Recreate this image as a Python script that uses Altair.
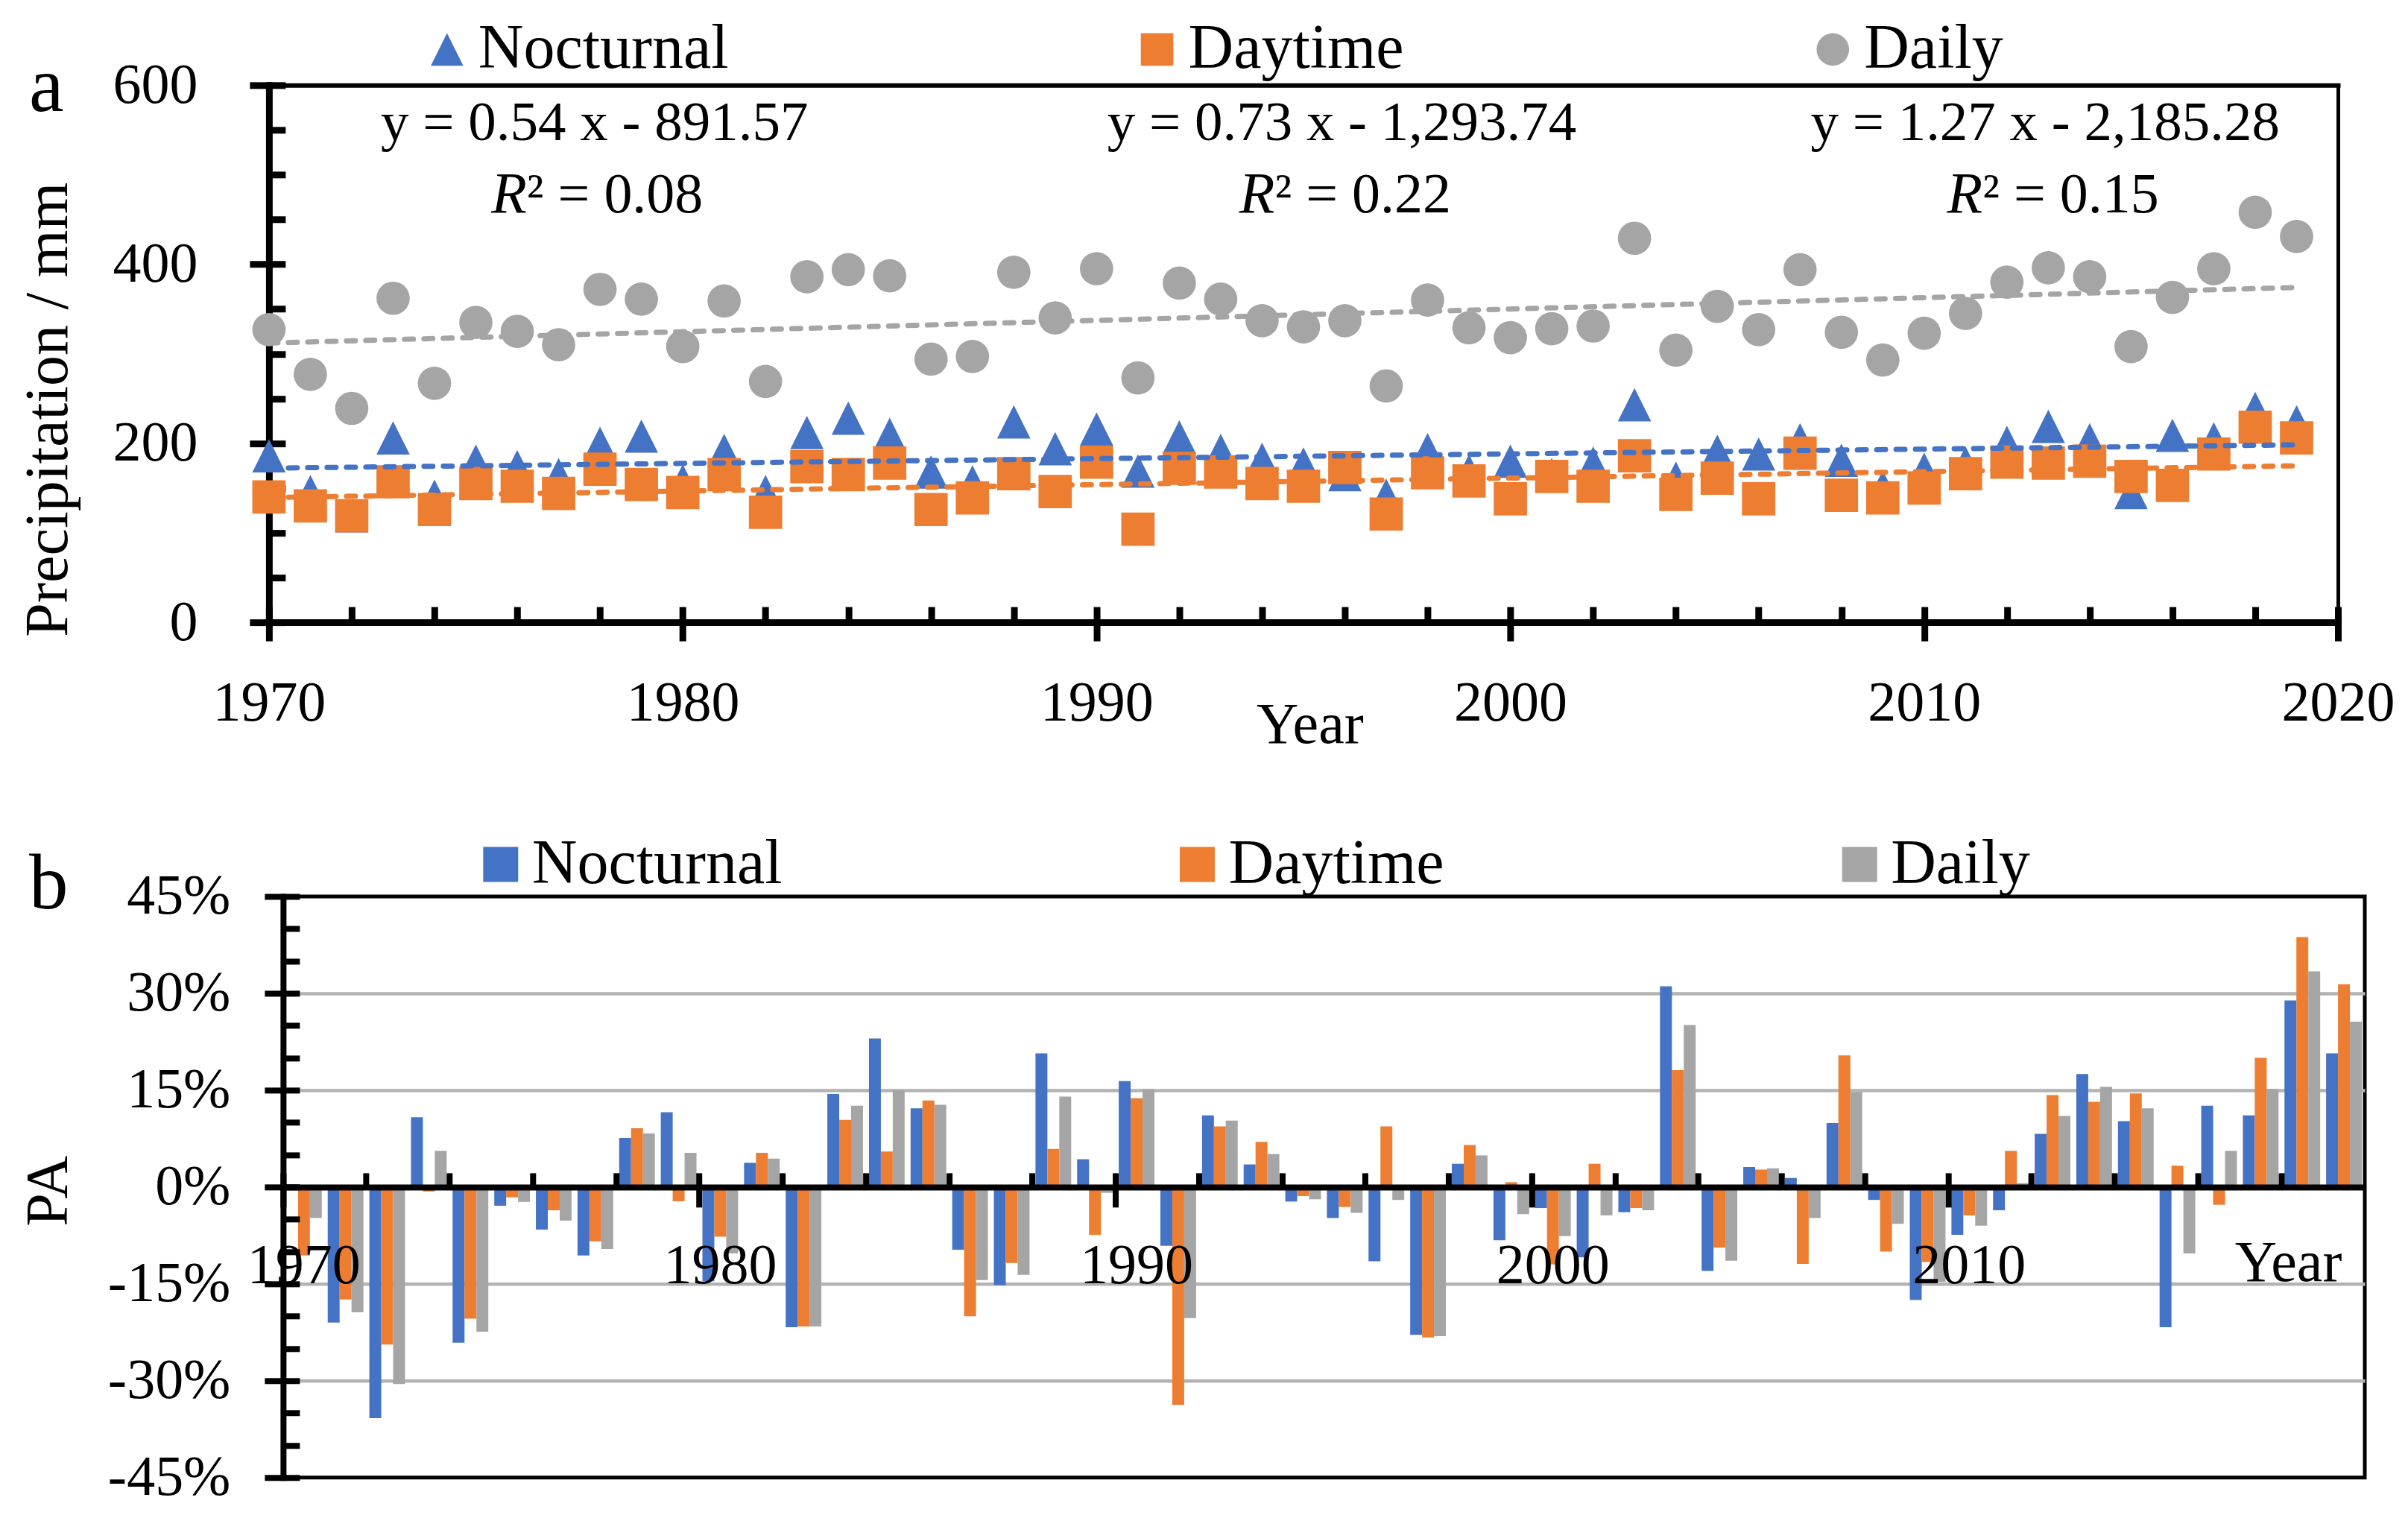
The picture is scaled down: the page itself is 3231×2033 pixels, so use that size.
import altair as alt
import pandas as pd

# ---------------- data ----------------
years = list(range(1970, 2020))
series = ["Nocturnal", "Daytime", "Daily"]
colors = ["#4472C4", "#ED7D31", "#A5A5A5"]

nocturnal = [186, 146, 119, 206, 141, 180, 174, 165, 200, 208,
             158, 192, 146, 212, 228, 210, 168, 157, 224, 194,
             216, 169, 207, 192, 182, 177, 165, 142, 193, 169,
             180, 165, 178, 243, 161, 191, 188, 204, 181, 151,
             171, 178, 201, 219, 204, 145, 209, 205, 239, 224]
daytime = [140, 130, 119, 157, 126, 155, 152, 144, 171, 154,
           145, 165, 123, 174, 165, 178, 126, 139, 166, 146,
           179, 104, 172, 168, 155, 152, 173, 121, 167, 158,
           138, 163, 152, 186, 143, 161, 138, 189, 142, 139,
           150, 166, 179, 178, 180, 163, 153, 188, 218, 206]
daily = [327, 277, 239, 362, 267, 335, 325, 310, 372, 361,
         308, 359, 269, 386, 394, 387, 294, 297, 391, 340,
         395, 273, 379, 361, 337, 330, 337, 264, 360, 329,
         318, 328, 331, 429, 304, 353, 327, 394, 324, 293,
         323, 345, 380, 396, 386, 308, 363, 395, 458, 431]

pa_nocturnal = [0.4, -21, -35.8, 10.8, -24.1, -2.9, -6.6, -10.6, 7.6, 11.6,
                -14.6, 3.75, -21.7, 14.4, 23, 12.2, -9.7, -15.2, 20.7, 4.3,
                16.4, -9.1, 11.1, 3.5, -2.25, -4.8, -11.5, -22.9, 3.6, -8.25,
                -3.25, -10.9, -3.9, 31.1, -13, 3.1, 1.4, 9.9, -2, -17.5,
                -7.4, -3.6, 8.25, 17.5, 10.2, -21.7, 12.6, 11.1, 28.9, 20.7]
pa_daytime = [-10.6, -17.4, -24.4, -0.7, -20.4, -1.6, -3.6, -8.4, 9.1, -2.2,
              -7.7, 5.3, -21.6, 10.4, 5.5, 13.4, -20, -11.75, 5.9, -7.4,
              13.75, -33.75, 9.4, 7, -1.4, -3.1, 9.4, -23.3, 6.5, 0.75,
              -12, 3.6, -3.25, 18.1, -9.4, 2.7, -11.9, 20.4, -10, -11.6,
              -4.4, 5.6, 14.25, 13.2, 14.5, 3.3, -2.75, 20, 38.7, 31.4]
pa_daily = [-4.8, -19.4, -30.5, 5.6, -22.4, -2.3, -5.2, -9.6, 8.3, 5.3,
            -10.3, 4.4, -21.6, 12.6, 15, 12.75, -14.4, -13.6, 14, -0.9,
            15.2, -20.3, 10.3, 5.1, -1.9, -4, -2, -23.1, 4.9, -4.2,
            -7.6, -4.4, -3.6, 25.1, -11.4, 2.9, -4.8, 14.7, -5.7, -14.7,
            -6, 0.6, 11, 15.5, 12.2, -10.3, 5.6, 15.2, 33.4, 25.6]

equations = ["y = 0.54 x - 891.57", "y = 0.73 x - 1,293.74", "y = 1.27 x - 2,185.28"]
r2_values = ["0.08", "0.22", "0.15"]
decades = [1970, 1980, 1990, 2000, 2010]

FONT = "Liberation Serif"
SHIFT = 19                 # panel a starts 19 px left of panel b
W1, H1 = 2758, 721         # panel a plot (group origin = panel b's left edge)
W2, H2 = 2794, 780

top_df = pd.DataFrame({
    "year": years * 3,
    "series": [s for s in series for _ in years],
    "value": nocturnal + daytime + daily,
})
bot_df = pd.DataFrame({
    "year": years * 3,
    "series": [s for s in series for _ in years],
    "pa": pa_nocturnal + pa_daytime + pa_daily,
})
one = pd.DataFrame({"k": [0]})


def axis(**kw):
    base = dict(labelFont=FONT, titleFont=FONT, labelColor="black", titleColor="black",
                tickColor="black", domainColor="black", grid=False, labelLimit=0)
    base.update(kw)
    return alt.Axis(**base)


def txt(text, x, y, size, align="center", style="normal"):
    return alt.Chart(one).mark_text(
        text=text, font=FONT, fontSize=size, align=align, baseline="alphabetic",
        fontStyle=style, color="black"
    ).encode(x=alt.value(x), y=alt.value(y))


# ---------------- panel a ----------------
xq = alt.Scale(domain=[1970, 2020], nice=False, zero=False, range=[-SHIFT, W1])
yq = alt.Scale(domain=[0, 600], nice=False, zero=True)
shapes = ["M0,-1L1,1L-1,1Z", "square", "circle"]

top_legend = alt.Legend(orient="none", legendX=178, legendY=-90, direction="horizontal",
                        columns=3, columnPadding=533, symbolSize=1900, symbolStrokeWidth=0,
                        labelFont=FONT, labelFontSize=84, labelColor="black", labelOffset=0,
                        labelLimit=0, padding=0, title=None)

points = alt.Chart(top_df).mark_point(filled=True, opacity=1, size=2000, strokeWidth=0).encode(
    x=alt.X("year:Q", scale=xq, axis=axis(
        orient="bottom", values=list(range(1970, 2021, 10)), format="d",
        tickSize=25, tickWidth=9, domainWidth=9, domainCap="square",
        labelFontSize=76, labelPadding=46, labelFlush=False, labelOverlap=False,
        title="Year", titleFontSize=78, titleFontWeight="normal",
        titleX=1378, titleY=161, titleAlign="center", titleBaseline="alphabetic")),
    y=alt.Y("value:Q", scale=yq, axis=axis(
        orient="left", offset=SHIFT, values=[0, 200, 400, 600], format="d",
        tickSize=26, tickWidth=9, domainWidth=9, domainCap="square",
        labelFontSize=76, labelPadding=70, labelOverlap=False,
        title="Precipitation / mm", titleFontSize=82, titleFontWeight="normal",
        titleAngle=270, titleX=-271, titleY=435, titleAlign="center",
        titleBaseline="alphabetic")),
    color=alt.Color("series:N", sort=series, scale=alt.Scale(domain=series, range=colors),
                    legend=top_legend),
    shape=alt.Shape("series:N", sort=series, scale=alt.Scale(domain=series, range=shapes),
                    legend=top_legend),
)

trend = alt.Chart(top_df).transform_regression(
    "year", "value", groupby=["series"], extent=[1970, 2019]
).mark_line(strokeWidth=7, strokeDash=[12, 14], strokeCap="round").encode(
    x=alt.X("year:Q", scale=xq, axis=axis(
        orient="top", offset=-H1, values=list(range(1970, 2021, 2)),
        tickSize=21, tickWidth=9, labels=False, domain=False, title=None)),
    y=alt.Y("value:Q", scale=yq, axis=axis(
        orient="right", offset=-(W1 + SHIFT), values=list(range(0, 601, 50)),
        tickSize=22, tickWidth=9, labels=False, domain=False, title=None)),
    stroke=alt.Stroke("series:N", sort=series, scale=alt.Scale(domain=series, range=colors),
                      legend=None),
)

# frame of panel a: top and right borders drawn as axis domains
frame_top = alt.Chart(top_df).mark_point(opacity=0).encode(
    x=alt.X("year:Q", scale=xq, axis=axis(
        orient="top", domain=True, domainWidth=6, domainCap="square",
        ticks=False, labels=False, title=None)),
    y=alt.Y("value:Q", scale=yq, axis=axis(
        orient="right", domain=True, domainWidth=5, domainCap="square",
        ticks=False, labels=False, title=None)),
)

eq_x = [418, 1421, 2365]
r_x = [327, 1331, 2281]
top_texts = []
for i in range(3):
    top_texts.append(txt(equations[i], eq_x[i], 74, 75))
    top_texts.append(txt("R", r_x[i], 171, 78, align="right", style="italic"))
    top_texts.append(txt("\u00b2 = " + r2_values[i], r_x[i], 171, 76, align="left"))
top_texts.append(txt("a", -341, 35, 105, align="left"))

spacer_top = alt.Chart(one).mark_rule(opacity=0, strokeWidth=1).encode(
    x=alt.value(-367), y=alt.value(-106), y2=alt.value(0))

top = alt.layer(frame_top, points, trend, *top_texts, spacer_top).resolve_axis(
    x="independent", y="independent").properties(
    width=W1, height=H1, view=alt.ViewBackground(strokeWidth=0))

# ---------------- panel b ----------------
xb = alt.Scale(type="band", domain=years, paddingInner=0, paddingOuter=0)
yb = alt.Scale(domain=[-45, 45], nice=False, zero=False)

bot_legend = alt.Legend(orient="none", legendX=250, legendY=-85, direction="horizontal",
                        columns=3, columnPadding=515, symbolType="square", symbolSize=2209,
                        symbolStrokeWidth=0, labelFont=FONT, labelFontSize=84,
                        labelColor="black", labelOffset=0, labelLimit=0, padding=0,
                        title=None)

grid_layer = alt.Chart(bot_df).mark_bar(opacity=0).encode(
    x=alt.X("year:O", scale=xb, axis=None),
    y=alt.Y("pa:Q", scale=yb, axis=axis(
        orient="left", values=[-30, -15, 15, 30], grid=True, gridColor="#B3B3B3",
        gridWidth=4.5, labels=False, ticks=False, domain=False, title=None, zindex=0)),
)

bars = alt.Chart(bot_df).mark_bar().encode(
    x=alt.X("year:O", scale=xb, axis=axis(
        orient="bottom", offset=-H2 / 2, values=decades, ticks=False, tickSize=0,
        labelAngle=0, labelFontSize=76, labelPadding=69, labelOverlap=False,
        domainWidth=8, title="Year", titleFontSize=78, titleFontWeight="normal",
        titleX=2691, titleY=126, titleAlign="center", titleBaseline="alphabetic",
        zindex=1)),
    xOffset=alt.XOffset("series:N", sort=series,
                        scale=alt.Scale(domain=series, paddingInner=0, paddingOuter=0.25)),
    y=alt.Y("pa:Q", scale=yb, axis=axis(
        orient="left", values=list(range(-45, 46, 15)), labelExpr="datum.value + '%'",
        tickSize=25, tickWidth=8, domainWidth=8, domainCap="square",
        labelFontSize=76, labelPadding=46, labelOverlap=False,
        title="PA", titleFontSize=80, titleFontWeight="normal", titleAngle=270,
        titleX=-290, titleY=395, titleAlign="center", titleBaseline="alphabetic",
        zindex=1)),
    color=alt.Color("series:N", sort=series, scale=alt.Scale(domain=series, range=colors),
                    legend=bot_legend),
)

ticks_a = alt.Chart(bot_df).mark_bar(opacity=0).encode(
    x=alt.X("year:O", scale=xb, axis=axis(
        orient="bottom", offset=-H2 / 2, values=decades, bandPosition=0,
        tickSize=27, tickWidth=8, labels=False, domain=False, title=None, zindex=1)),
    y=alt.Y("pa:Q", scale=yb, axis=axis(
        orient="right", offset=-W2, values=list(range(-45, 46, 5)),
        tickSize=22, tickWidth=8, labels=False, domain=False, title=None, zindex=1)),
)

ticks_b = alt.Chart(bot_df).mark_bar(opacity=0).encode(
    x=alt.X("year:O", scale=xb, axis=axis(
        orient="top", offset=-H2 / 2, values=list(range(1970, 2020, 2)), bandPosition=0,
        tickSize=19, tickWidth=8, labels=False, domain=False, title=None, zindex=1)),
    y=alt.Y("pa:Q", scale=yb, axis=None),
)

label_b = txt("b", -341, 16, 105, align="left")
spacer_bot = alt.Chart(one).mark_rule(opacity=0, strokeWidth=1).encode(
    x=alt.value(-367), y=alt.value(0), y2=alt.value(H2))

bottom = alt.layer(grid_layer, bars, ticks_a, ticks_b, label_b, spacer_bot).resolve_axis(
    x="independent", y="independent").properties(
    width=W2, height=H2, view=alt.ViewBackground(stroke="black", strokeWidth=5))

chart = alt.vconcat(top, bottom, spacing=368, bounds="flush").resolve_scale(
    color="independent"
).resolve_legend(color="independent", shape="independent").properties(
    padding={"left": 2, "top": 0, "right": 10, "bottom": 10}
).configure(font=FONT).configure_view(stroke="black", strokeWidth=5)

chart.save("out.html", embed_options={"renderer": "svg", "actions": False})
